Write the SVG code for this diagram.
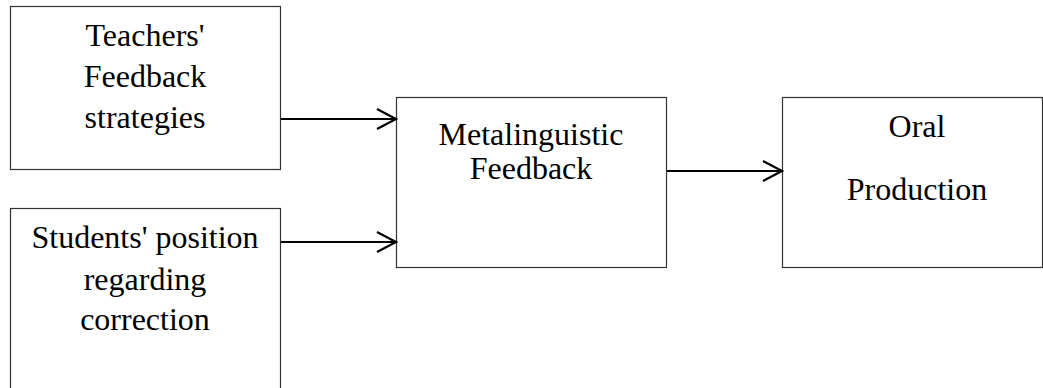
<svg xmlns="http://www.w3.org/2000/svg" width="1043" height="388" viewBox="0 0 1043 388">
<style>
.box{fill:#fff;stroke:#333;stroke-width:1.2}
.t{font-family:"Liberation Serif","Times New Roman",serif;font-size:32px;fill:#000;text-anchor:middle}
.c{stroke:#000;stroke-width:2.2;fill:none}
</style>
<defs>
<marker id="ah" markerUnits="userSpaceOnUse" markerWidth="24" markerHeight="24" refX="20" refY="11" orient="auto">
<path d="M1,1 L20,11 L1,21" fill="none" stroke="#000" stroke-width="2.2"/>
</marker>
</defs>
<rect width="1043" height="388" fill="#fff"/>
<g id="teachers">
<rect class="box" x="10.5" y="6.5" width="270" height="163"/>
<text class="t" x="145" y="46">Teachers'</text>
<text class="t" x="145" y="87">Feedback</text>
<text class="t" x="145" y="128">strategies</text>
</g>
<g id="students">
<rect class="box" x="10.5" y="208.5" width="270" height="200"/>
<text class="t" x="145" y="248">Students' position</text>
<text class="t" x="145" y="290">regarding</text>
<text class="t" x="145" y="330">correction</text>
</g>
<g id="metalinguistic">
<rect class="box" x="396.5" y="97.5" width="270" height="170"/>
<text class="t" x="531" y="145">Metalinguistic</text>
<text class="t" x="531" y="179">Feedback</text>
</g>
<g id="oral">
<rect class="box" x="782.5" y="97.5" width="260" height="170"/>
<text class="t" x="917" y="137">Oral</text>
<text class="t" x="917" y="200">Production</text>
</g>
<g id="connectors">
<line class="c" x1="281" y1="119" x2="396" y2="119" marker-end="url(#ah)"/>
<line class="c" x1="281" y1="242" x2="396" y2="242" marker-end="url(#ah)"/>
<line class="c" x1="667" y1="171" x2="782" y2="171" marker-end="url(#ah)"/>
</g>
</svg>
